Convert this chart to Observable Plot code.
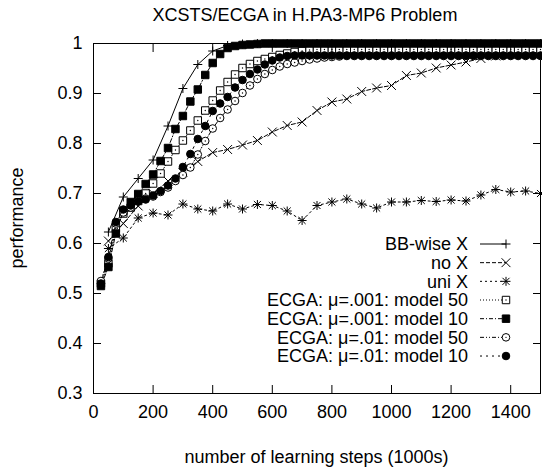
<!DOCTYPE html>
<html><head><meta charset="utf-8">
<script src="https://cdn.jsdelivr.net/npm/d3@7"></script>
<script src="https://cdn.jsdelivr.net/npm/@observablehq/plot@0.6"></script>
<style>body{margin:0;background:#fff} svg{display:block}</style>
</head><body><div id="chart"></div>
<script>
// ---- data ----
const chartTitle = "XCSTS/ECGA in H.PA3-MP6 Problem";
const xLabel = "number of learning steps (1000s)";
const yLabel = "performance";
const seriesNames = ["BB-wise X", "no X", "uni X", "ECGA: \u03bc=.001: model 50", "ECGA: \u03bc=.001: model 10", "ECGA: \u03bc=.01: model 50", "ECGA: \u03bc=.01: model 10"];

const xcsSteps = [50,100,150,200,250,300,350,400,450,500,550,600,650,700,750,800,850,900,950,1000,1050,1100,1150,1200,1250,1300,1350,1400,1450,1500];
const ecgaSteps = [25,50,75,100,125,150,175,200,225,250,275,300,325,350,375,400,425,450,475,500,525,550,575,600,625,650,675,700,725,750,775,800,825,850,875,900,925,950,975,1000,1025,1050,1075,1100,1125,1150,1175,1200,1225,1250,1275,1300,1325,1350,1375,1400,1425,1450,1475,1500];

const bbWise = [0.623,0.693,0.73,0.767,0.835,0.91,0.958,0.985,0.996,0.999,1,1,1,1,1,1,1,1,1,1,1,1,1,1,1,1,1,1,1,1];
const noX = [0.605,0.64,0.675,0.70,0.725,0.742,0.764,0.782,0.788,0.797,0.806,0.823,0.836,0.843,0.866,0.883,0.889,0.904,0.911,0.916,0.936,0.941,0.951,0.957,0.963,0.970,0.975,0.978,0.980,0.983];
const uniX = [0.59,0.611,0.651,0.661,0.657,0.679,0.669,0.665,0.679,0.669,0.678,0.676,0.665,0.646,0.676,0.683,0.689,0.679,0.671,0.683,0.683,0.686,0.684,0.687,0.685,0.697,0.708,0.703,0.705,0.70];
const ecga001m50 = [0.52,0.56,0.63,0.66,0.672,0.685,0.70,0.72,0.74,0.764,0.787,0.806,0.826,0.846,0.866,0.886,0.906,0.923,0.938,0.951,0.959,0.965,0.969,0.973,0.977,0.98,0.983,0.985,0.987,0.988,0.988,0.988,0.988,0.988,0.988,0.988,0.988,0.988,0.988,0.988,0.988,0.988,0.988,0.988,0.988,0.988,0.988,0.988,0.988,0.988,0.988,0.988,0.988,0.988,0.988,0.988,0.988,0.988,0.988,0.988];
const ecga001m10 = [0.515,0.553,0.62,0.665,0.683,0.699,0.719,0.738,0.765,0.791,0.829,0.855,0.884,0.908,0.937,0.961,0.979,0.991,0.995,0.997,0.998,0.999,1,1,1,1,1,1,1,1,1,1,1,1,1,1,1,1,1,1,1,1,1,1,1,1,1,1,1,1,1,1,1,1,1,1,1,1,1,1];
const ecga01m50 = [0.525,0.57,0.64,0.662,0.672,0.685,0.69,0.694,0.703,0.712,0.725,0.737,0.752,0.778,0.805,0.83,0.851,0.868,0.885,0.901,0.916,0.929,0.939,0.947,0.954,0.959,0.962,0.965,0.968,0.97,0.972,0.973,0.974,0.975,0.975,0.975,0.975,0.975,0.975,0.975,0.975,0.975,0.975,0.975,0.975,0.975,0.975,0.975,0.975,0.975,0.975,0.975,0.975,0.975,0.975,0.975,0.975,0.975,0.975,0.975];
const ecga01m10 = [0.52,0.573,0.643,0.668,0.676,0.684,0.688,0.696,0.705,0.716,0.73,0.753,0.779,0.809,0.835,0.865,0.88,0.893,0.912,0.927,0.939,0.948,0.958,0.966,0.972,0.975,0.976,0.976,0.976,0.976,0.976,0.976,0.976,0.976,0.976,0.976,0.976,0.976,0.976,0.976,0.976,0.976,0.976,0.976,0.976,0.976,0.976,0.976,0.976,0.976,0.976,0.976,0.976,0.976,0.976,0.976,0.976,0.976,0.976,0.976];

const xTicks = [0,200,400,600,800,1000,1200,1400];
const yTicks = [0.3,0.4,0.5,0.6,0.7,0.8,0.9,1];
const yTickLabels = ["0.3","0.4","0.5","0.6","0.7","0.8","0.9","1"];

// ---- styles ----
const FONT = '"Liberation Sans", Arial, Helvetica, sans-serif';
const W = 542, H = 472, mL = 93, mR = 2, mT = 43, mB = 79;
const SQ = 4.2, CI = 3.8;
const specs = [
  {values: bbWise, steps: xcsSteps, dash: null, markers: [{symbol: "plus", r: 3.0, fill: "none"}]},
  {values: noX, steps: xcsSteps, dash: "4,2", markers: [{symbol: "times", r: 4.1, fill: "none"}]},
  {values: uniX, steps: xcsSteps, dash: "2,3", markers: [{symbol: "plus", r: 3.0, fill: "none"}, {symbol: "times", r: 3.3, fill: "none"}]},
  {values: ecga001m50, steps: ecgaSteps, dash: "1,2", markers: [{symbol: "square", r: SQ, fill: "white"}, {symbol: "circle", r: 0.7, fill: "black"}]},
  {values: ecga001m10, steps: ecgaSteps, dash: "4,2,1,2", markers: [{symbol: "square", r: SQ, fill: "black"}]},
  {values: ecga01m50, steps: ecgaSteps, dash: "4,2,1,2,1,2", markers: [{symbol: "circle", r: CI, fill: "white"}, {symbol: "circle", r: 0.7, fill: "black"}]},
  {values: ecga01m10, steps: ecgaSteps, dash: "2,4", markers: [{symbol: "circle", r: CI, fill: "black"}]}
];

const marks = [Plot.frame({stroke: "black", strokeWidth: 1})];
for (const s of specs) {
  const rows = s.steps.map((x, i) => ({x, y: s.values[i]}));
  marks.push(Plot.line(rows, {x: "x", y: "y", stroke: "black", strokeWidth: 1, strokeDasharray: s.dash || undefined}));
  for (const m of s.markers) {
    marks.push(Plot.dot(rows, {x: "x", y: "y", symbol: m.symbol, r: m.r, fill: m.fill, stroke: m.r < 1 ? "none" : "black", strokeWidth: 1}));
  }
}
marks.push(
  Plot.axisY({anchor: "left", ticks: yTicks, tickSize: -8, tickPadding: 19, tickFormat: (d) => yTickLabels[yTicks.indexOf(d)] ?? d, label: null, stroke: "black"}),
  Plot.axisY({anchor: "right", ticks: yTicks, tickSize: -8, tickFormat: () => "", label: null}),
  Plot.axisX({anchor: "bottom", ticks: xTicks, tickSize: -8, tickPadding: 20, tickFormat: (d) => String(d), label: null}),
  Plot.axisX({anchor: "top", ticks: xTicks, tickSize: -8, tickFormat: () => "", label: null})
);

const chart = Plot.plot({
  width: W, height: H,
  marginLeft: mL, marginRight: mR, marginTop: mT, marginBottom: mB,
  x: {domain: [0, 1500]},
  y: {domain: [0.3, 1]},
  style: {fontFamily: FONT, fontSize: "18px", color: "black", background: "white"},
  marks
});
document.getElementById("chart").appendChild(chart);

// ---- titles and legend ----
const svg = d3.select(chart);
const txt = (x, y, s, anchor, extra) => {
  const t = svg.append("text").attr("x", x).attr("y", y).attr("text-anchor", anchor)
    .attr("fill", "black").style("font-family", FONT).style("font-size", "18px").text(s);
  if (extra) extra(t);
  return t;
};
txt(305, 21, chartTitle, "middle");
txt(316.5, 463, xLabel, "middle");
txt(0, 0, yLabel, "middle", t => t.attr("transform", "translate(23,218) rotate(-90)"));

const symMap = {plus: d3.symbolPlus, times: d3.symbolTimes, square: d3.symbolSquare, circle: d3.symbolCircle};
const lg = svg.append("g");
specs.forEach((s, i) => {
  const y = 244 + i * 18.67;
  lg.append("text").attr("x", 468).attr("y", y).attr("dy", "0.35em").attr("text-anchor", "end")
    .attr("fill", "black").style("font-family", FONT).style("font-size", "18px").text(seriesNames[i]);
  const ln = lg.append("line").attr("x1", 480).attr("x2", 506).attr("y1", y).attr("y2", y)
    .attr("stroke", "black").attr("stroke-width", 1);
  if (s.dash) ln.attr("stroke-dasharray", s.dash);
  for (const m of s.markers) {
    lg.append("path").attr("transform", `translate(506,${y})`)
      .attr("d", d3.symbol(symMap[m.symbol], Math.PI * m.r * m.r)())
      .attr("fill", m.fill).attr("stroke", m.r < 1 ? "none" : "black").attr("stroke-width", 1);
  }
});
</script>
</body></html>
